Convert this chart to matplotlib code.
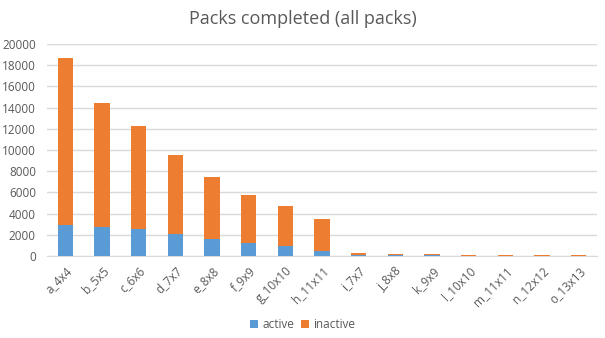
import matplotlib.pyplot as plt
import numpy as np

plt.rcParams["font.family"] = ["Open Sans", "DejaVu Sans"]

packs = ["a_4x4", "b_5x5", "c_6x6", "d_7x7", "e_8x8", "f_9x9", "g_10x10",
         "h_11x11", "i_7x7", "j_8x8", "k_9x9", "l_10x10", "m_11x11",
         "n_12x12", "o_13x13"]
active = [2950, 2750, 2550, 2100, 1600, 1230, 940, 470, 80, 60, 50, 20, 20, 20, 20]
totals = [18700, 14450, 12270, 9540, 7450, 5750, 4720, 3500, 280, 200, 180, 80, 80, 80, 80]
inactive = [t - a for t, a in zip(totals, active)]

BLUE = "#5B9BD5"
ORANGE = "#ED7D31"
GREY = "#595959"

fig = plt.figure(figsize=(6.05, 3.38), dpi=100)
ax = fig.add_axes([47 / 605, (338 - 256) / 338, 550 / 605, 212 / 338])

x = np.arange(len(packs))
b1 = ax.bar(x, active, width=0.41, color=BLUE, label="active", zorder=3)
b2 = ax.bar(x, inactive, width=0.41, bottom=active, color=ORANGE, label="inactive", zorder=3)

ax.set_xlim(-0.5, len(packs) - 0.5)
ax.set_ylim(0, 20000)
ax.set_yticks(range(0, 20001, 2000))
ax.grid(True, axis="y", color="#d9d9d9", linewidth=1.0, zorder=0)
ax.set_axisbelow(True)
for s in ["top", "right", "left"]:
    ax.spines[s].set_visible(False)
ax.spines["bottom"].set_color("#d9d9d9")

ax.set_xticks(x)
ax.set_xticklabels(packs, rotation=45, ha="right", rotation_mode="anchor")
ax.tick_params(axis="x", length=0, pad=6, labelsize=8.5, colors=GREY)
ax.tick_params(axis="y", length=0, pad=8, labelsize=8.5, colors=GREY)

fig.text(0.5, 0.93, "Packs completed (all packs)", ha="center", fontsize=13, color=GREY)

fig.legend(handles=[b1, b2], labels=["active", "inactive"], loc="center",
           bbox_to_anchor=(0.5, 0.04), ncol=2, frameon=False, fontsize=8.5,
           handlelength=0.7, handleheight=0.7, handletextpad=0.3, columnspacing=0.6,
           labelcolor=GREY)

fig.savefig("out.png", dpi=100)
